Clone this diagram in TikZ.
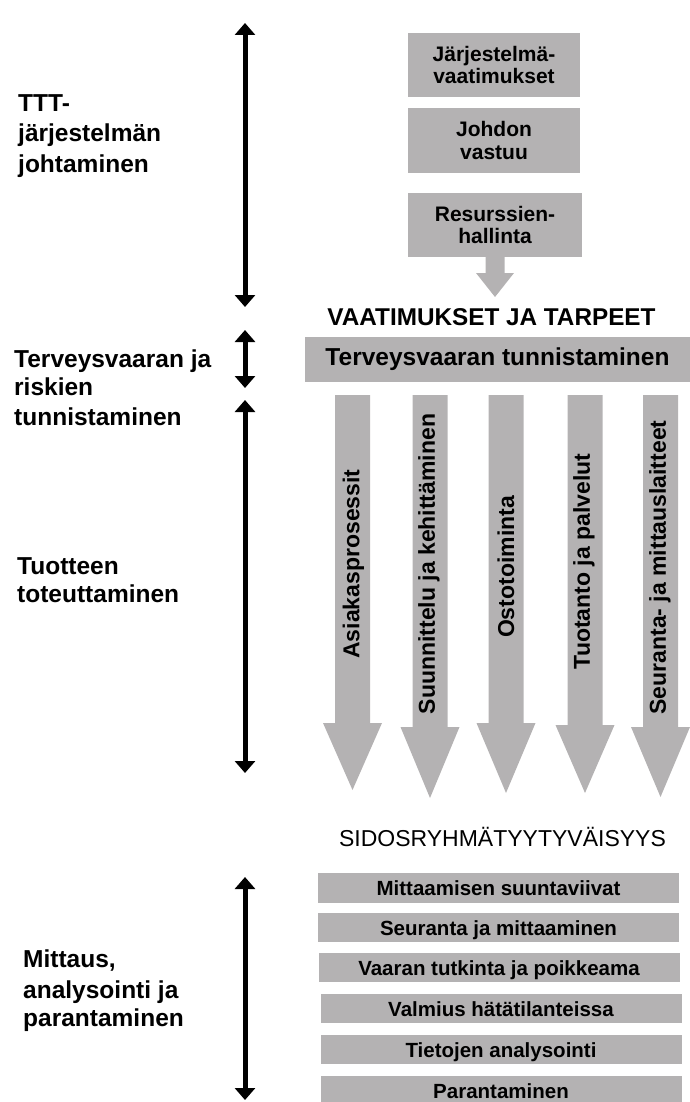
\documentclass[tikz,border=0pt]{standalone}
\usepackage{fontspec}
\setmainfont{Liberation Sans}
\usetikzlibrary{arrows.meta}
\definecolor{boxgray}{RGB}{180,178,179}

\begin{document}
\begin{tikzpicture}[x=1pt,y=-1pt,
  every node/.style={inner sep=0pt},
  lbl/.style={anchor=base west, font=\fontsize{24.5}{30}\selectfont\bfseries},
  span/.style={line width=5pt,
    {Triangle[width=20pt,length=12pt]}-{Triangle[width=20pt,length=12pt]}},
  topbox/.style={fill=boxgray, minimum width=172pt, minimum height=64pt,
    align=center, font=\fontsize{21}{22.5}\selectfont\bfseries},
  rowbox/.style={fill=boxgray, minimum width=361pt, minimum height=29.5pt,
    text height=15pt, text depth=0pt, font=\fontsize{20.5}{24}\selectfont\bfseries},
  flowtxt/.style={rotate=90, font=\fontsize{23}{26}\selectfont\bfseries},
  heading/.style={anchor=base, font=\fontsize{24}{28}\selectfont},
]
\useasboundingbox (0,0) rectangle (690,1102);

% ---- phase labels on the left ----
\node[lbl] (l1a) at (18,112) {TTT-};
\node[lbl] (l1b) at (18,142) {järjestelmän};
\node[lbl] (l1c) at (18,172) {johtaminen};

\node[lbl] (l2a) at (14,367) {Terveysvaaran ja};
\node[lbl] (l2b) at (14,395) {riskien};
\node[lbl] (l2c) at (14,425) {tunnistaminen};

\node[lbl] (l3a) at (17,574) {Tuotteen};
\node[lbl] (l3b) at (17,602) {toteuttaminen};

\node[lbl] (l4a) at (23,967) {Mittaus,};
\node[lbl] (l4b) at (23,998) {analysointi ja};
\node[lbl] (l4c) at (23,1026) {parantaminen};

% ---- extent markers ----
\coordinate (s1t) at (245,23);   \coordinate (s1b) at (245,307);
\coordinate (s2t) at (245,330);  \coordinate (s2b) at (245,388);
\coordinate (s3t) at (245,400);  \coordinate (s3b) at (245,773);
\coordinate (s4t) at (245,877);  \coordinate (s4b) at (245,1100);
\draw[span] (s1t) -- (s1b);
\draw[span] (s2t) -- (s2b);
\draw[span] (s3t) -- (s3b);
\draw[span] (s4t) -- (s4b);

% ---- management boxes ----
\node[topbox] (req) at (494,65)    {Järjestelmä-\\vaatimukset};
\node[topbox, minimum height=65pt] (resp) at (494,140.5) {Johdon\\vastuu};
\node[topbox, minimum width=174pt] (res) at (495,225) {Resurssien-\\hallinta};

% down arrow from resource management
\coordinate (resTip) at (495,297);
\fill[boxgray] (res.south) ++(-9.5,0) -- ++(19,0) -- (504.5,273) -- (514,273)
  -- (resTip) -- (476,273) -- (485.5,273) -- cycle;

\node[heading, font=\fontsize{24.3}{28}\selectfont\bfseries] (needs) at (491.5,325.5) {VAATIMUKSET JA TARPEET};

\node[fill=boxgray, minimum width=385pt, minimum height=45pt,
  font=\fontsize{24.5}{28}\selectfont\bfseries] (hazard) at (497.5,359.5)
  {Terveysvaaran tunnistaminen};

% ---- process flow arrows ----
\foreach \c/\h/\t in {352.5/723/790, 430/727/798, 506/723/793, 585/725/793, 660.5/727/797}{
  \fill[boxgray] (\c-17.5,395) -- (\c+17.5,395) -- (\c+17.5,\h) -- (\c+29.5,\h)
    -- (\c,\t) -- (\c-29.5,\h) -- (\c-17.5,\h) -- cycle;
}
\node[flowtxt] (p1) at (353.5,564)   {Asiakasprosessit};
\node[flowtxt] (p2) at (429,564)     {Suunnittelu ja kehittäminen};
\node[flowtxt] (p3) at (506,567)     {Ostotoiminta};
\node[flowtxt] (p4) at (584,561.5)   {Tuotanto ja palvelut};
\node[flowtxt] (p5) at (660,567.5)   {Seuranta- ja mittauslaitteet};

\node[heading, font=\fontsize{23}{28}\selectfont] (sat) at (502.5,846) {SIDOSRYHMÄTYYTYVÄISYYS};

% ---- measurement and improvement rows ----
\node[rowbox, minimum height=30pt] (r1) at (498.5,888)  {Mittaamisen suuntaviivat};
\node[rowbox] (r2) at (498.5,927.5) {Seuranta ja mittaaminen};
\node[rowbox] (r3) at (499,967.5)   {Vaaran tutkinta ja poikkeama};
\node[rowbox] (r4) at (501,1008.5)  {Valmius hätätilanteissa};
\node[rowbox] (r5) at (501,1049.5)  {Tietojen analysointi};
\node[rowbox] (r6) at (501,1091)    {Parantaminen};
\end{tikzpicture}
\end{document}
